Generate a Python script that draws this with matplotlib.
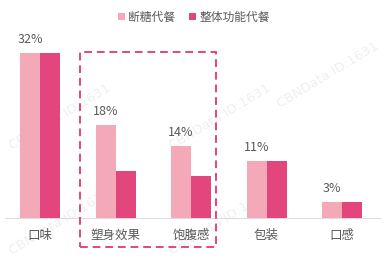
import matplotlib
matplotlib.use("Agg")
import matplotlib.pyplot as plt
from matplotlib.patches import Patch, Rectangle

plt.rcParams['font.family'] = ['Noto Sans CJK SC', 'DejaVu Sans']

categories = ['口味', '塑身效果', '饱腹感', '包装', '口感']
series_names = ['断糖代餐', '整体功能代餐']
light_vals = [32, 18, 14, 11, 3]
dark_vals = [32, 9, 8, 11, 3]
value_labels = ['32%', '18%', '14%', '11%', '3%']

c_light = '#F4A9B9'
c_dark = '#E2467C'
c_text = '#595959'

W, H = 388, 258
fig = plt.figure(figsize=(W / 100, H / 100), dpi=100)
fig.patch.set_facecolor('white')

# watermark layer behind everything
wm = fig.add_axes([0, 0, 1, 1], zorder=0)
wm.set_axis_off()
for cx, cy in [(60, 117), (220, 117), (328, 75), (60, 222), (220, 222)]:
    wm.text(cx / W, 1 - cy / H, 'CBNData ID:1631', rotation=31, fontsize=9.5,
            color='#efefef', ha='center', va='center', family='DejaVu Sans',
            transform=wm.transAxes)

# axes geometry in pixels
base_px = 217.7
top_px = 37.5
ax_left_px, ax_right_px = 5, 380
ax = fig.add_axes([ax_left_px / W, (H - base_px) / H,
                   (ax_right_px - ax_left_px) / W, (base_px - top_px) / H], zorder=2)
ax.set_facecolor('none')

spacing = 75.5
x0 = 40
ax.set_xlim((ax_left_px - x0) / spacing, (ax_right_px - x0) / spacing)
ymax = (base_px - top_px) / 5.15
ax.set_ylim(0, ymax)

bw = 20 / spacing
xs = list(range(len(categories)))
ax.bar([x - bw / 2 for x in xs], light_vals, width=bw, color=c_light, zorder=3)
ax.bar([x + bw / 2 for x in xs], dark_vals, width=bw, color=c_dark, zorder=3)

for x, v, lab in zip(xs, light_vals, value_labels):
    ax.annotate(lab, (x - bw / 2, v), xytext=(0, 5), textcoords='offset points',
                ha='center', va='bottom', fontsize=9, color=c_text)

ax.set_xticks(xs)
ax.set_xticklabels(categories, fontsize=9, color=c_text)
ax.tick_params(axis='x', length=0, pad=8)
ax.set_yticks([])
for s in ['top', 'left', 'right']:
    ax.spines[s].set_visible(False)
ax.spines['bottom'].set_color('#dcdcdc')
ax.spines['bottom'].set_linewidth(0.8)

# dashed highlight box
px_per_val = 5.15
rx0 = (80 - x0) / spacing
rx1 = (216 - x0) / spacing
ry0 = -(246.7 - base_px) / px_per_val
ry1 = (base_px - 52) / px_per_val
rect = Rectangle((rx0, ry0), rx1 - rx0, ry1 - ry0, fill=False, edgecolor=c_dark,
                 linewidth=1.4, linestyle=(0, (4, 2.5)), clip_on=False, zorder=4)
ax.add_patch(rect)

# legend
handles = [Patch(facecolor=c_light, edgecolor='none'), Patch(facecolor=c_dark, edgecolor='none')]
fig.legend(handles, series_names, loc='center', bbox_to_anchor=(194 / W, 1 - 17 / H),
           ncol=2, frameon=False, fontsize=8.5, handlelength=0.6, handleheight=0.6,
           handletextpad=0.3, columnspacing=1.2, labelcolor=c_text)

fig.savefig('out.png', dpi=100, facecolor='white')
